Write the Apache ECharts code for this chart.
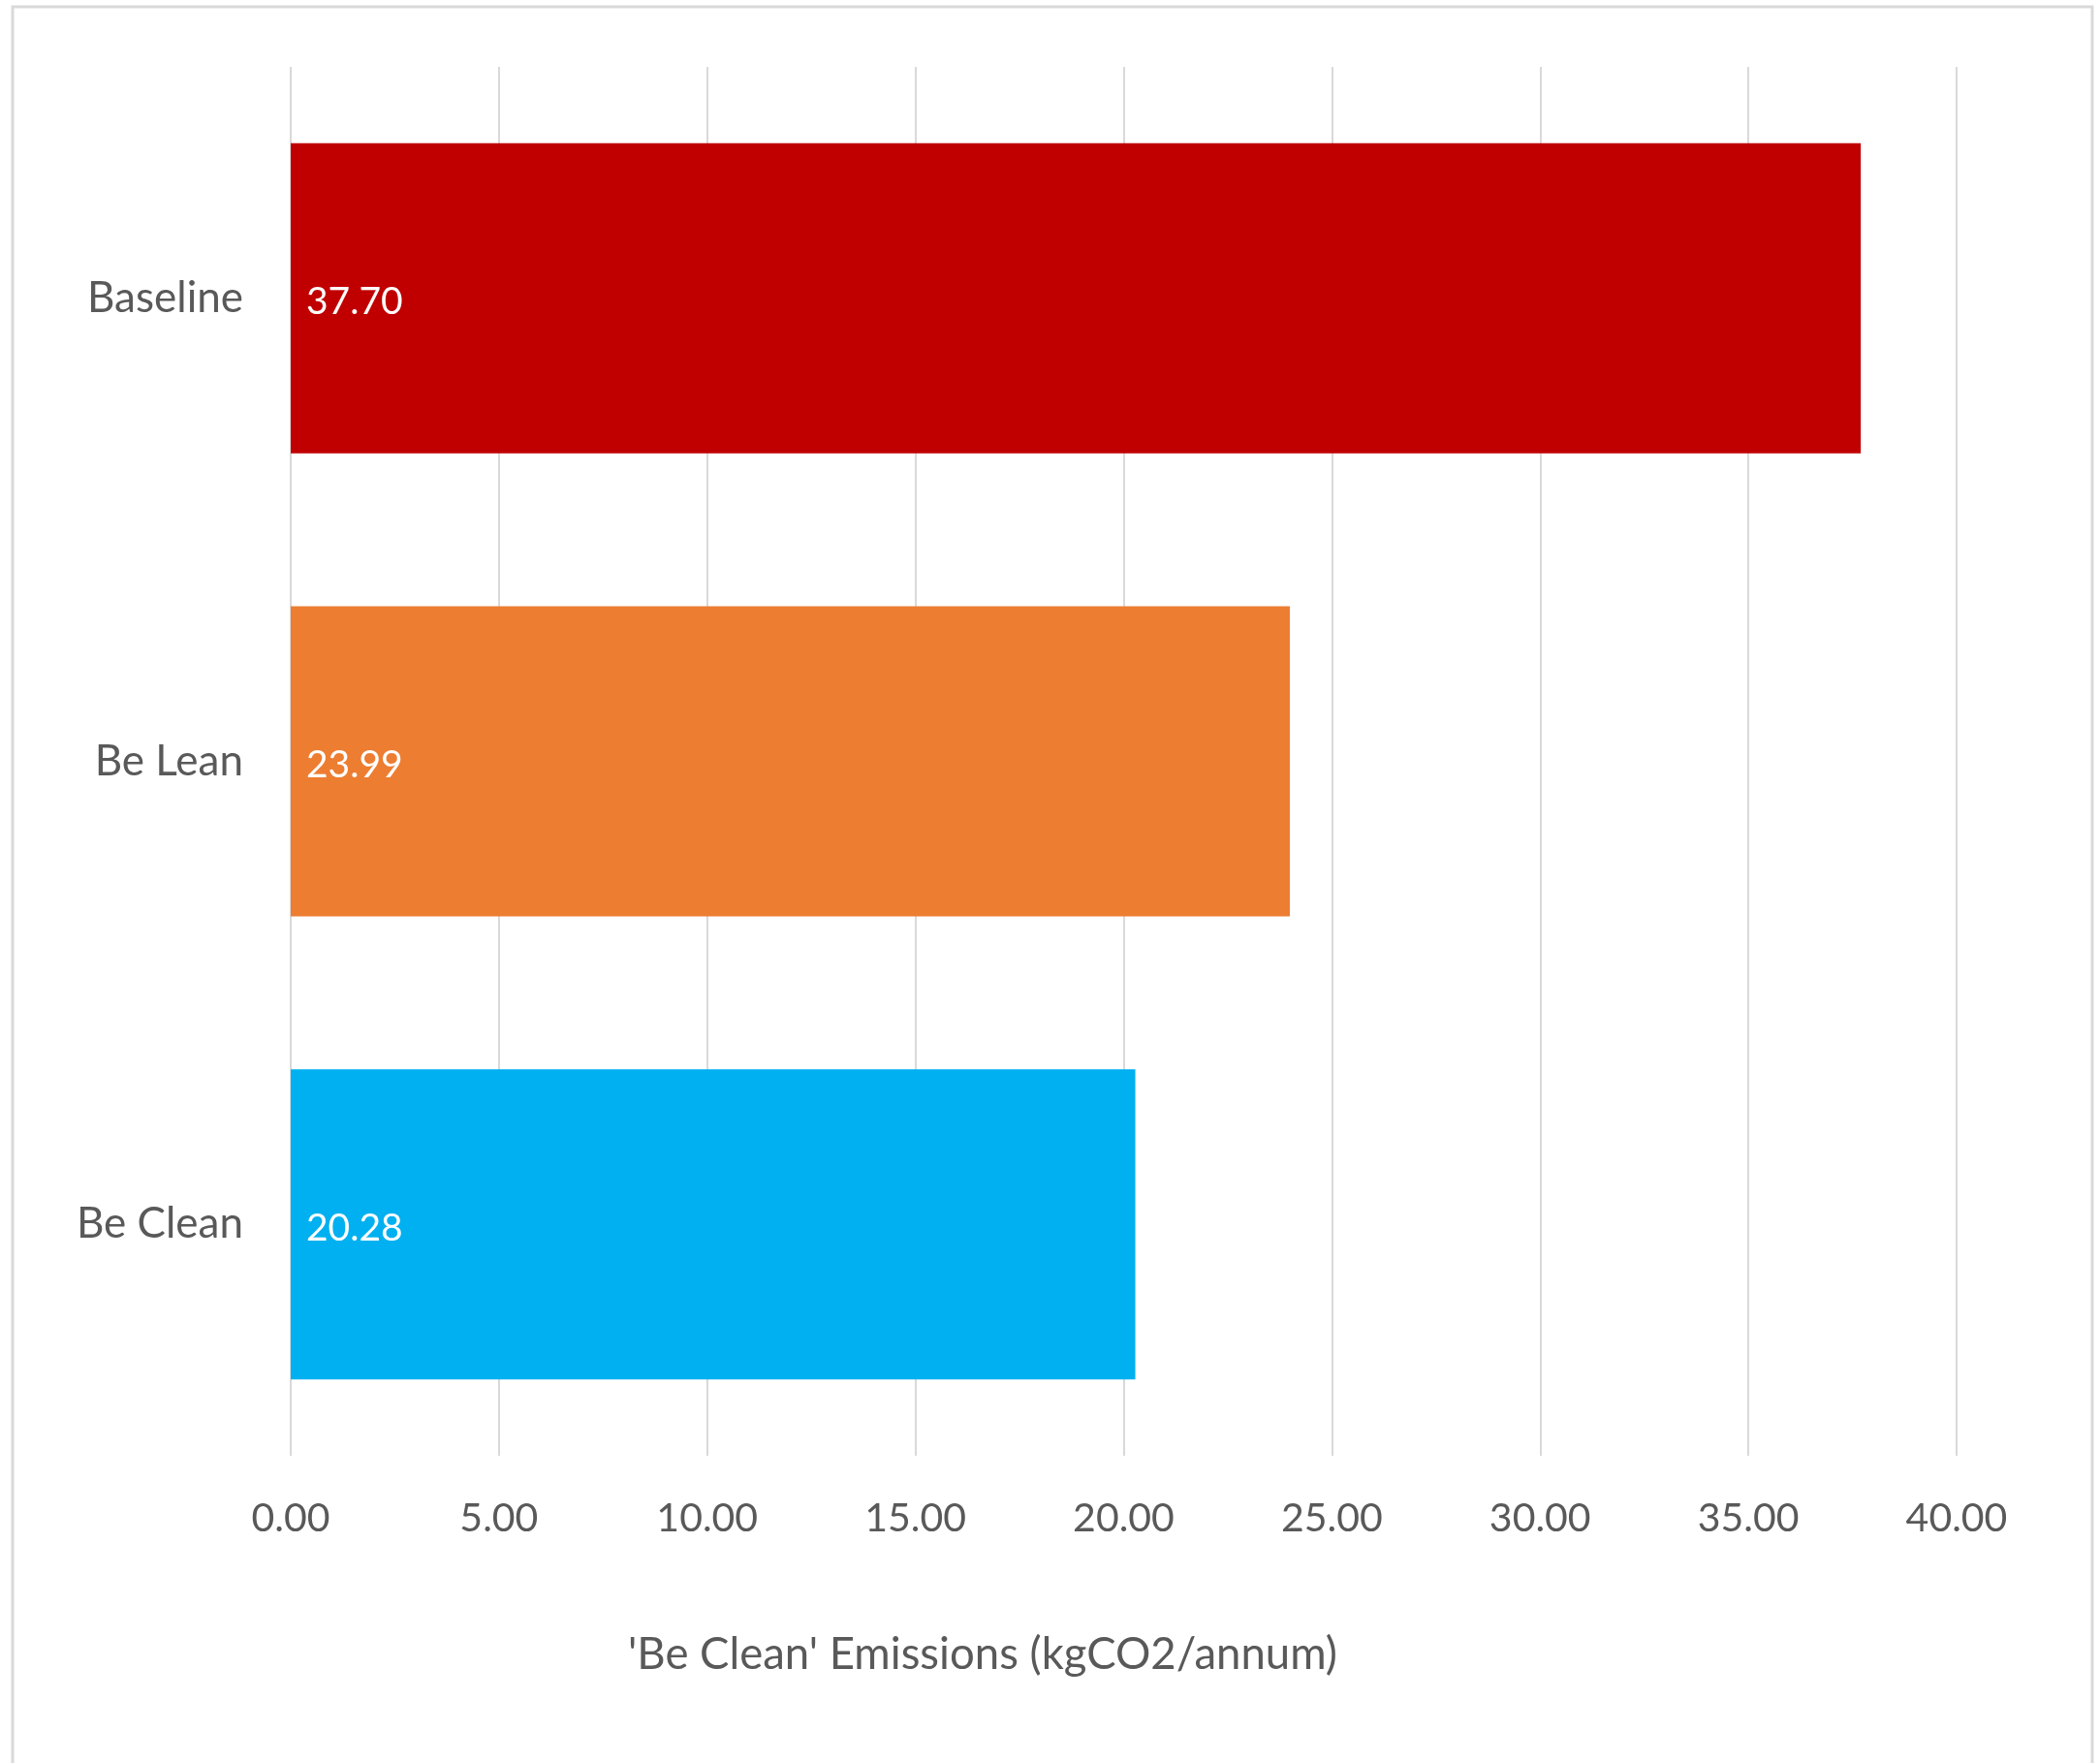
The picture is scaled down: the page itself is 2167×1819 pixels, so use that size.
<!DOCTYPE html>
<html>
<head>
<meta charset="utf-8">
<script src="https://cdn.jsdelivr.net/npm/echarts@6/dist/echarts.min.js"></script>
<style>html,body{margin:0;padding:0;background:#fff}#c{width:2167px;height:1819px}</style>
</head>
<body>
<div id="c"></div>
<script>
const categories = ['Baseline', 'Be Lean', 'Be Clean'];
const values = [37.70, 23.99, 20.28];
const barColors = ['#C00000', '#ED7D31', '#00B0F0'];
const axisTitle = "'Be Clean' Emissions (kgCO2/annum)";
const FONT = 'Lato';

const chart = echarts.init(document.getElementById('c'));
chart.setOption({
  backgroundColor: '#fff',
  animation: false,
  graphic: [
    { type: 'rect', shape: { x: 13, y: 7, width: 2146, height: 1830 },
      style: { fill: 'none', stroke: '#D9D9D9', lineWidth: 3 } },
    { type: 'text', x: 1014, y: 1707,
      style: { text: axisTitle, fill: '#595959', font: '45.5px ' + FONT, align: 'center', verticalAlign: 'middle' } }
  ],
  grid: { left: 300, right: 148, top: 69, bottom: 317 },
  xAxis: {
    type: 'value', min: 0, max: 40, interval: 5,
    axisLine: { show: false }, axisTick: { show: false },
    splitLine: { show: true, lineStyle: { color: '#D9D9D9', width: 2 } },
    axisLabel: { formatter: v => v.toFixed(2), color: '#595959', fontSize: 41, fontFamily: FONT, margin: 44 }
  },
  yAxis: {
    type: 'category', data: categories, inverse: true,
    axisLine: { show: false }, axisTick: { show: false },
    axisLabel: { color: '#595959', fontSize: 44, fontFamily: FONT, margin: 49 }
  },
  series: [{
    type: 'bar',
    data: values.map((v, i) => ({ value: v, itemStyle: { color: barColors[i] } })),
    barCategoryGap: '33%',
    label: { show: true, position: 'insideLeft', distance: 16, color: '#fff', fontSize: 39, fontFamily: FONT,
      offset: [0, 4], formatter: p => p.value.toFixed(2) }
  }]
});
</script>
</body>
</html>
